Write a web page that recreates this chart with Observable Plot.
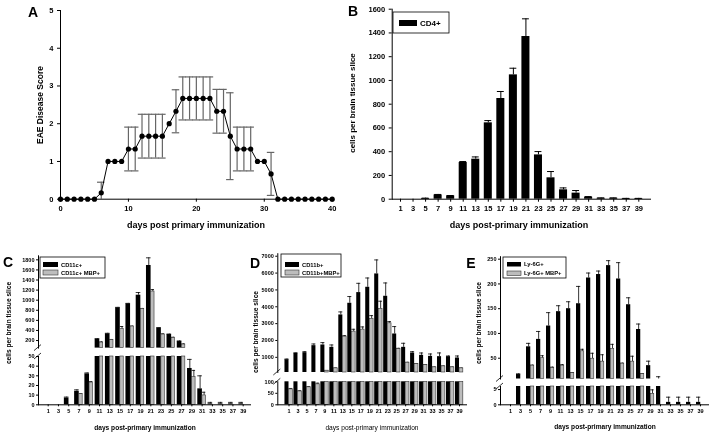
<!DOCTYPE html>
<html><head><meta charset="utf-8">
<script src="https://cdn.jsdelivr.net/npm/d3@7"></script>
<script src="https://cdn.jsdelivr.net/npm/@observablehq/plot@0.6"></script>
<style>
html,body{margin:0;padding:0;background:#fff;}
#fig{position:relative;width:714px;height:434px;overflow:hidden;font-family:"Liberation Sans",Arial,sans-serif;}
#fig svg{position:absolute;left:0;top:0;will-change:transform;}
</style></head><body><div id="fig"></div>
<script>
// ---------- Panel A: EAE disease score ----------
const daysA = [0,1,2,3,4,5,6,7,8,9,10,11,12,13,14,15,16,17,18,19,20,21,22,23,24,25,26,27,28,29,30,31,32,33,34,35,36,37,38,39,40];
const scoreA = [0,0,0,0,0,0,0.17,1,1,1,1.33,1.33,1.67,1.67,1.67,1.67,2,2.33,2.67,2.67,2.67,2.67,2.67,2.33,2.33,1.67,1.33,1.33,1.33,1,1,0.67,0,0,0,0,0,0,0,0,0];
const errA = [0,0,0,0,0,0,0.28,0,0,0,0.58,0.58,0.58,0.58,0.58,0.58,0,0.57,0.57,0.57,0.57,0.57,0.57,0.58,0.58,1.15,0.58,0.58,0.58,0,0,0.57,0,0,0,0,0,0,0,0,0];
const ticksAx = [0,10,20,30,40];
const ticksAy = [0,1,2,3,4,5];

// ---------- shared bar-chart days ----------
const daysBar = [1,3,5,7,9,11,13,15,17,19,21,23,25,27,29,31,33,35,37,39];

// ---------- Panel B: CD4+ ----------
const seriesB = ["CD4+"];
const cd4 = [0,0,6,36,28,309,337,643,848,1047,1370,373,180,79,51,17,8,8,5,5];
const cd4Err = [0,0,3,4,3,8,19,19,59,56,149,28,53,16,22,5,3,3,2,2];
const ticksBy = [0,200,400,600,800,1000,1200,1400,1600];

// ---------- Panel C: CD11c+ ----------
const seriesC = ["CD11c+","CD11c+ MBP+"];
const cd11c = [0,0,7,14,32,226,332,848,927,1099,1688,445,319,180,37.6,16.5,1,1,1,1];
const cd11cErr = [0,0,1,1.5,1,12,12,10,10,53,152,12,10,13,9.4,13.5,1.5,1.5,1.5,1.5];
const cd11cMbp = [0,0,0,11,23,160,213,425,478,828,1172,319,253,121,28.6,9.7,0,0,0,0];
const cd11cMbpErr = [0,0,0,0.5,1,13,8,53,8,8,39,13,12,12,7,3.3,0,0,0,0];
const ticksCup = [200,400,600,800,1000,1200,1400,1600,1800];
const ticksClow = [0,10,20,30,40,50];

// ---------- Panel D: CD11b+ ----------
const seriesD = ["CD11b+","CD11b+MBP+"];
const cd11b = [861,1238,1277,1693,1733,1594,3515,4208,4842,5158,5950,4624,2386,1594,1257,1119,1059,1040,1040,960];
const cd11bErr = [40,30,60,100,140,140,180,400,550,550,830,790,440,240,80,140,140,220,40,120];
const cd11bMbp = [67,58,76,89,208,346,2228,2525,2644,3277,3871,3020,1495,683,604,545,406,465,406,346];
const cd11bMbpErr = [4,3,3,5,10,20,60,140,160,200,460,100,40,20,20,20,20,20,20,20];
const ticksDup = [1000,2000,3000,4000,5000,6000,7000];
const ticksDlow = [0,50,100];

// ---------- Panel E: Ly-6G+ ----------
const seriesE = ["Ly-6G+","Ly-6G+ MBP+"];
const ly6g = [0,17,73,88,115,144,150,160,212,219,237,210,158,108,35,7,0.8,0.8,0.8,0.8];
const ly6gErr = [0,1.5,7,16,27,12,14,35,10,7,10,33,14,11,9,5.6,1.7,1.7,1.7,1.7];
const ly6gMbp = [0,0,35,50,30,35,20,64,49,43,69,39,43,18,3.6,0,0,0,0,0];
const ly6gMbpErr = [0,0,1,5,2,2,1,4,11,14,9,1,11,1,1.3,0,0,0,0,0];
const ticksEup = [50,100,150,200,250];
const ticksElow = [0,5];

const FONT = "Liberation Sans, Arial, sans-serif";
const fig = document.getElementById("fig");
const fmt = d3.format("d");
function layer(opts){
  const svg = Plot.plot({width:714, height:434, ...opts,
    style:{background:"transparent", overflow:"visible", fontFamily:FONT, color:"#000"}});
  fig.appendChild(svg);
  return svg;
}

// ---------- Panel A ----------
const dataA = daysA.map((d,i)=>({day:d, v:scoreA[i], e:errA[i]}));
const errRowsA = dataA.filter(d=>d.e>0);
layer({
  marginLeft:60, marginRight:714-331.7, marginTop:10, marginBottom:434-198.7,
  x:{domain:[0,40]}, y:{domain:[0,5]},
  marks:[
    Plot.ruleX(errRowsA,{x:"day", y1:d=>Math.max(0,d.v-d.e), y2:d=>d.v+d.e, stroke:"#666", strokeWidth:1.2}),
    Plot.ruleY(errRowsA,{y:d=>d.v+d.e, x1:d=>d.day-0.55, x2:d=>d.day+0.55, stroke:"#666", strokeWidth:1.2}),
    Plot.ruleY(errRowsA.filter(d=>d.v-d.e>0),{y:d=>d.v-d.e, x1:d=>d.day-0.55, x2:d=>d.day+0.55, stroke:"#666", strokeWidth:1.2}),
    Plot.line(dataA,{x:"day", y:"v", stroke:"#000", strokeWidth:1}),
    Plot.dot(dataA,{x:"day", y:"v", r:2.6, fill:"#000"}),
    Plot.frame({anchor:"left", stroke:"#000"}),
    Plot.frame({anchor:"bottom", stroke:"#000"}),
    Plot.axisX({ticks:ticksAx, tickSize:3, tickPadding:3, fontSize:7.5, fontWeight:"bold", label:null, tickFormat:fmt}),
    Plot.axisY({ticks:ticksAy, tickSize:3, tickPadding:4, fontSize:7.5, fontWeight:"bold", label:null, tickFormat:fmt})
  ]
});

// ---------- Panel B ----------
const dataB = daysBar.map((d,i)=>({day:d, v:cd4[i], e:cd4Err[i]}));
layer({
  marginLeft:391.7, marginRight:714-650, marginTop:8.7, marginBottom:434-198.7,
  x:{domain:[1,39], range:[400,638.3]}, y:{domain:[0,1600]},
  marks:[
    Plot.ruleX(dataB.filter(d=>d.e>0),{x:"day", y1:"v", y2:d=>d.v+d.e, stroke:"#000", strokeWidth:1}),
    Plot.ruleY(dataB.filter(d=>d.e>0),{y:d=>d.v+d.e, x1:d=>d.day-0.55, x2:d=>d.day+0.55, stroke:"#000", strokeWidth:1}),
    Plot.rect(dataB.filter(d=>d.v>0),{x1:d=>d.day-0.64, x2:d=>d.day+0.64, y1:0, y2:"v", fill:"#000"}),
    Plot.frame({anchor:"left", stroke:"#000"}),
    Plot.frame({anchor:"bottom", stroke:"#000"}),
    Plot.axisX({ticks:daysBar, tickSize:3, tickPadding:3, fontSize:7.5, fontWeight:"bold", label:null, tickFormat:fmt}),
    Plot.axisY({ticks:ticksBy, tickSize:3, tickPadding:4, fontSize:7.5, fontWeight:"bold", label:null, tickFormat:fmt})
  ]
});

// ---------- broken-axis grouped bar panels ----------
function broken(p){
  const mk = (vals, errs) => p.days.map((d,i)=>({day:d, v:vals[i], e:errs[i], hi:vals[i]+errs[i]}));
  const series = [
    {rows: mk(p.v1,p.e1), off:p.bk, fill:"#000", stroke:"none"},
    {rows: mk(p.v2,p.e2), off:p.gr, fill:"#bdbdbd", stroke:"#333"}
  ];
  const lowMax = p.low.domain[1], upMin = p.up.domain[0];
  const xs = {domain:[p.days[0], p.days[p.days.length-1]], range:p.xr};
  const barMarks = (sel, y1) => series.flatMap(s => {
    const c = d => d.day + (s.off[0]+s.off[1])/2;
    const hw = (s.off[1]-s.off[0])/2;
    const rows = s.rows;
    return [
      Plot.ruleX(rows.filter(d=>d.e>0 && sel.stem(d)),{x:c, y1:"v", y2:"hi", stroke:"#000", strokeWidth:0.8}),
      Plot.ruleY(rows.filter(d=>d.e>0 && sel.cap(d)),{y:"hi", x1:d=>c(d)-hw, x2:d=>c(d)+hw, stroke:"#000", strokeWidth:0.8}),
      Plot.rect(rows.filter(sel.bar),{x1:d=>d.day+s.off[0], x2:d=>d.day+s.off[1], y1:y1, y2:"v", fill:s.fill, stroke:s.stroke, strokeWidth:0.6})
    ];
  });
  // lower segment
  layer({
    marginLeft:p.axisX, marginRight:714-p.axisEnd, marginTop:p.low.range[1], marginBottom:434-p.low.range[0],
    x:xs, y:{domain:p.low.domain, range:p.low.range, clamp:true},
    marks:[
      ...barMarks({bar:d=>d.v>0, stem:d=>d.v<lowMax, cap:d=>d.hi<=lowMax}, 0),
      Plot.frame({anchor:"left", stroke:"#000"}),
      Plot.frame({anchor:"bottom", stroke:"#000"}),
      Plot.axisX({ticks:p.days, tickSize:2, tickPadding:2, fontSize:5.5, fontWeight:"bold", label:null, tickFormat:fmt}),
      Plot.axisY({ticks:p.lowTicks, tickSize:2, tickPadding:2, fontSize:5.5, fontWeight:"bold", label:null, tickFormat:fmt})
    ]
  });
  // upper segment
  layer({
    marginLeft:p.axisX, marginRight:714-p.axisEnd, marginTop:p.up.range[1], marginBottom:434-p.up.range[0],
    x:{...xs, axis:null}, y:{domain:p.up.domain, range:p.up.range, clamp:true},
    marks:[
      ...barMarks({bar:d=>d.v>upMin, stem:d=>d.hi>upMin, cap:d=>d.hi>upMin}, upMin),
      Plot.frame({anchor:"left", stroke:"#000"}),
      Plot.axisY({ticks:p.upTicks, tickSize:2, tickPadding:2, fontSize:5.5, fontWeight:"bold", label:null, tickFormat:fmt})
    ]
  });
}

broken({days:daysBar, v1:cd11c, e1:cd11cErr, v2:cd11cMbp, e2:cd11cMbpErr,
  axisX:38, axisEnd:250, xr:[47.7,242.7], bk:[-0.85,0.05], gr:[0.05,0.72],
  low:{domain:[0,50], range:[404.3,356]}, up:{domain:[50,1880], range:[347.6,255.3]},
  lowTicks:ticksClow, upTicks:ticksCup});
broken({days:daysBar, v1:cd11b, e1:cd11bErr, v2:cd11bMbp, e2:cd11bMbpErr,
  axisX:277.3, axisEnd:466, xr:[288.5,459], bk:[-0.9,0.0], gr:[0.0,0.85],
  low:{domain:[0,100], range:[404.3,381.3]}, up:{domain:[100,7150], range:[372,253.2]},
  lowTicks:ticksDlow, upTicks:ticksDup});
broken({days:daysBar, v1:ly6g, e1:ly6gErr, v2:ly6gMbp, e2:ly6gMbpErr,
  axisX:500, axisEnd:708, xr:[510,700], bk:[-0.8,0.05], gr:[0.05,0.75],
  low:{domain:[0,6], range:[404.3,386]}, up:{domain:[8,255], range:[378.5,256.2]},
  lowTicks:ticksElow, upTicks:ticksEup});

// ---------- overlay: titles, legends, break marks ----------
const ov = d3.select(fig).append("svg").attr("width",714).attr("height",434)
  .style("font-family",FONT);
function txt(x,y,s,size,opts={}){
  const t = ov.append("text").attr("x",x).attr("y",y).text(s)
    .attr("font-size",size).attr("font-weight",opts.weight||"bold")
    .attr("text-anchor",opts.anchor||"middle").attr("dominant-baseline","central").attr("fill","#000");
  if(opts.rot) t.attr("transform",`rotate(${opts.rot},${x},${y})`);
  return t;
}
// panel letters
txt(33,12,"A",14); txt(353,11,"B",14); txt(8,262,"C",14); txt(255,263,"D",14); txt(471,263,"E",14);
// axis titles
txt(196,225,"days post primary immunization",9);
txt(519,225,"days post-primary immunization",9);
txt(40,105,"EAE Disease Score",8.5,{rot:-90});
txt(352,103,"cells per brain tissue slice",8,{rot:-90});
txt(145,427,"days post-primary immunization",6.6);
txt(372,427,"days post-primary immunization",6.6,{weight:"normal"});
txt(605,426,"days post-primary immunization",6.6);
txt(8.5,323,"cells per brain tissue slice",6.6,{rot:-90});
txt(255,332,"cells per brain tissue slice",6.6,{rot:-90});
txt(478,323,"cells per brain tissue slice",6.6,{rot:-90});

// legends
function legend(x,y,w,h,names,sw,size){
  ov.append("rect").attr("x",x).attr("y",y).attr("width",w).attr("height",h)
    .attr("fill","#fff").attr("stroke","#000").attr("stroke-width",0.8);
  names.forEach((n,i)=>{
    const yy = y + sw.top + i*sw.gap;
    ov.append("rect").attr("x",x+sw.dx).attr("y",yy).attr("width",sw.w).attr("height",sw.h)
      .attr("fill", i===0?"#000":"#bdbdbd").attr("stroke", i===0?"none":"#333").attr("stroke-width",0.6);
    txt(x+sw.dx+sw.w+3, yy+sw.h/2, n, size, {anchor:"start"});
  });
}
legend(393,12,56,21,seriesB,{dx:6,top:8,gap:0,w:18,h:6},8);
legend(40,257,65,21,seriesC,{dx:3,top:5,gap:8,w:15,h:5},5.8);
legend(281,254,60,23,seriesD,{dx:4,top:8,gap:8,w:14,h:5},5.8);
legend(503,257,63,21,seriesE,{dx:4,top:5,gap:9,w:14,h:4.5},5.8);

// axis-break marks
function brk(ax, yUp, yLow){
  [yUp, yLow].forEach(y=>{
    ov.append("line").attr("x1",ax-4).attr("y1",y+3).attr("x2",ax+3).attr("y2",y-3)
      .attr("stroke","#000").attr("stroke-width",0.8);
  });
}
brk(38,347.6,356); brk(277.3,372,381.3); brk(500,378.5,386);
</script></body></html>
